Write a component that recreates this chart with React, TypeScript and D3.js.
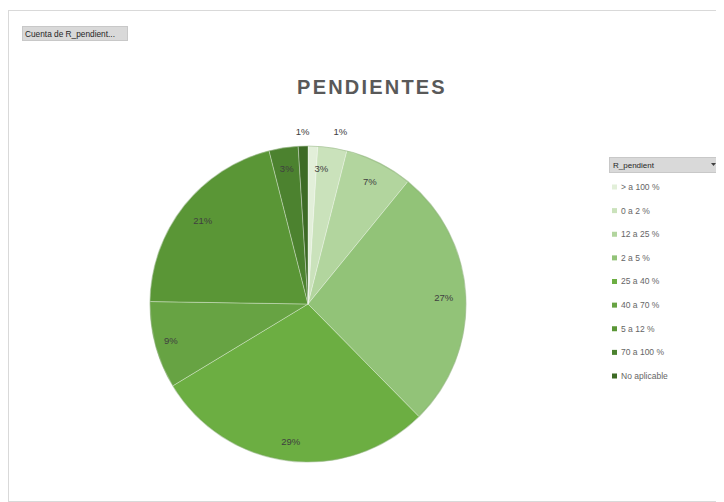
import * as d3 from "d3";

// slice order as Excel draws it (clockwise from 12 o'clock), same as the legend
const categories = [
  "> a 100 %",
  "0 a 2 %",
  "12 a 25 %",
  "2 a 5 %",
  "25 a 40 %",
  "40 a 70 %",
  "5 a 12 %",
  "70 a 100 %",
  "No aplicable",
];
const values = [1, 3, 7, 27, 29, 9, 21, 3, 1];
const colors = [
  "#e2efd9",
  "#cae2bb",
  "#b2d59e",
  "#92c378",
  "#6cae42",
  "#67a343",
  "#5a9636",
  "#4c822f",
  "#3d6b25",
];
// tiny slices get their label outside the pie; one is nudged sideways like Excel's best fit
const labelRadius = [1.09, 0.87, 0.87, 0.86, 0.88, 0.9, 0.85, 0.87, 1.09];
const labelNudge = [27, -8, 0, 0, 0, 0, 0, 0, 0];

const W = 716;
const H = 494;
const cx = 300;
const cy = 296;
const r = 158;

export default function App() {
  const total = d3.sum(values);
  const pie = d3.pie<number>().sort(null).value((d) => d)(values);
  const arc = d3.arc<d3.PieArcDatum<number>>().innerRadius(0).outerRadius(r);
  const legendY = d3.scalePoint<string>().domain(categories).range([179, 368]);

  return (
    <svg width={W} height={H} style={{ display: "block", fontFamily: "'Liberation Sans', Arial, sans-serif" }}>
      <rect x={0.5} y={2.5} width={W + 10} height={H - 3} fill="#fff" stroke="#d9d9d9" />

      {/* pivot field button */}
      <rect x={14.5} y={18.5} width={105} height={14} fill="#d9d9d9" stroke="#c8c8c8" />
      <text x={17} y={28.5} fontSize={8.3} fill="#262626">Cuenta de R_pendient...</text>

      <text
        x={364}
        y={86}
        textAnchor="middle"
        fontSize={20}
        fontWeight="bold"
        letterSpacing={2.2}
        fill="#595959"
      >
        PENDIENTES
      </text>

      <g transform={`translate(${cx},${cy})`}>
        {pie.map((p, i) => (
          <path
            key={categories[i]}
            d={arc(p) ?? ""}
            fill={colors[i]}
            stroke="#ffffff"
            strokeOpacity={0.4}
            strokeWidth={0.8}
          />
        ))}
        <circle r={r} fill="none" stroke="#5f8f45" strokeOpacity={0.35} strokeWidth={1.2} />
        {pie.map((p, i) => {
          const mid = (p.startAngle + p.endAngle) / 2;
          const rr = r * labelRadius[i];
          const x = Math.sin(mid) * rr + labelNudge[i];
          const y = -Math.cos(mid) * rr;
          return (
            <text
              key={"l" + i}
              x={x}
              y={y}
              dy="0.35em"
              textAnchor="middle"
              fontSize={9.5}
              fill="#404040"
            >
              {Math.round((values[i] / total) * 100)}%
            </text>
          );
        })}
      </g>

      {/* legend with field button */}
      <rect x={601.5} y={149.5} width={112} height={15} fill="#d9d9d9" stroke="#c8c8c8" />
      <text x={605} y={160} fontSize={8} fill="#262626">R_pendient</text>
      <path d="M703,155 L708,155 L705.5,158 Z" fill="#404040" />
      {categories.map((c, i) => (
        <g key={c} transform={`translate(604,${legendY(c)})`}>
          <rect x={0} y={-2.5} width={5} height={5} fill={colors[i]} />
          <text x={9} y={0} dy="0.35em" fontSize={8.5} fill="#666666">
            {c}
          </text>
        </g>
      ))}
    </svg>
  );
}
